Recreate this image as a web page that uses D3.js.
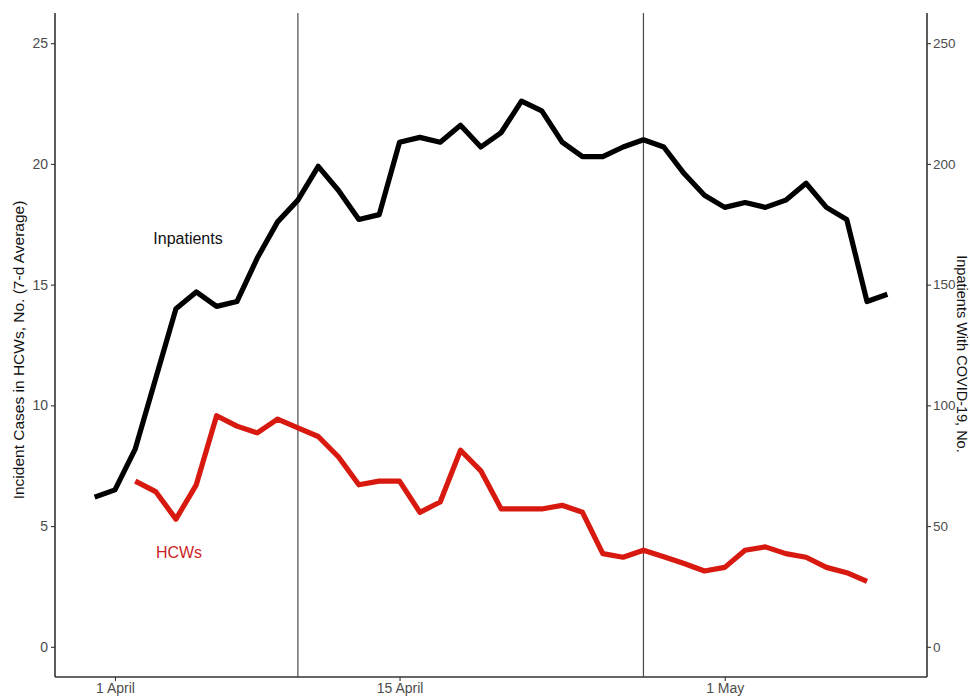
<!DOCTYPE html>
<html>
<head>
<meta charset="utf-8">
<script src="https://cdn.jsdelivr.net/npm/d3@7"></script>
<style>
  html, body { margin: 0; padding: 0; background: #fff; }
  svg { display: block; font-family: "Liberation Sans", Arial, Helvetica, sans-serif; }
</style>
</head>
<body>
<svg id="chart" width="970" height="696"></svg>
<script>
// Inpatients with COVID-19 (daily census), 31 March – 9 May
const inpatientStart = "2020-03-31";
const inpatients = [62, 65, 82, 111, 140, 147, 141, 143, 161, 176,
  185, 199, 189, 177, 179, 209, 211, 209, 216, 207,
  213, 226, 222, 209, 203, 203, 207, 210, 207, 196,
  187, 182, 184, 182, 185, 192, 182, 177, 143, 146];

// Incident cases in HCWs (7-day average), 2 April – 8 May
const hcwStart = "2020-04-02";
const hcwCases = [6.86, 6.43, 5.29, 6.71, 9.57, 9.14, 8.86, 9.43, 9.07, 8.71,
  7.86, 6.71, 6.86, 6.86, 5.57, 6.00, 8.14, 7.29, 5.71, 5.71,
  5.71, 5.86, 5.57, 3.86, 3.71, 4.00, 3.73, 3.45, 3.14, 3.29,
  4.00, 4.14, 3.86, 3.71, 3.29, 3.07, 2.71];

// Policy change dates marked with vertical rules
const markerDates = ["2020-04-10", "2020-04-27"];

// Axis ticks
const xTickDates = ["2020-04-01", "2020-04-15", "2020-05-01"];
const xTickLabels = ["1 April", "15 April", "1 May"];
const leftTicks = [0, 5, 10, 15, 20, 25];
const rightTicks = [0, 50, 100, 150, 200, 250];

const parse = d3.utcParse("%Y-%m-%d");
const seriesFrom = (start, values) =>
  values.map((v, i) => ({ date: d3.utcDay.offset(parse(start), i), value: v }));

const inpatientData = seriesFrom(inpatientStart, inpatients);
const hcwData = seriesFrom(hcwStart, hcwCases);

const svg = d3.select("#chart");
const panel = { left: 55, right: 927, top: 13, bottom: 677 };

// x: 5% padding around the full date span
const first = parse(inpatientStart);
const last = inpatientData[inpatientData.length - 1].date;
const span = last - first;
const x = d3.scaleUtc()
  .domain([new Date(+first - span * 0.05), new Date(+last + span * 0.05)])
  .range([panel.left, panel.right]);

// left axis: HCW cases; right axis: inpatients (10x)
const yL = d3.scaleLinear().domain([-1.25, 26.25]).range([panel.bottom, panel.top]);
const yR = d3.scaleLinear().domain([-12.5, 262.5]).range([panel.bottom, panel.top]);

const tickColor = "#4d4d4d";
const axisColor = "#333333";

// vertical rules
svg.append("g").selectAll("line")
  .data(markerDates.map(parse))
  .join("line")
  .attr("x1", d => x(d)).attr("x2", d => x(d))
  .attr("y1", panel.top).attr("y2", panel.bottom)
  .attr("stroke", "#4a4a4a").attr("stroke-width", 1.2);

// axes
function styleAxis(size) {
  return g => {
    g.select(".domain").remove();
    g.selectAll(".tick line").attr("stroke", axisColor).attr("stroke-width", 1.1);
    g.selectAll(".tick text").attr("fill", tickColor).style("font-size", size);
  };
}

svg.append("g")
  .attr("transform", `translate(${panel.left},0)`)
  .call(d3.axisLeft(yL).tickValues(leftTicks).tickSize(4).tickPadding(3))
  .call(styleAxis("14px"));

svg.append("g")
  .attr("transform", `translate(${panel.right},0)`)
  .call(d3.axisRight(yR).tickValues(rightTicks).tickSize(4).tickPadding(2))
  .call(styleAxis("13.5px"));

svg.append("g")
  .attr("transform", `translate(0,${panel.bottom})`)
  .call(d3.axisBottom(x).tickValues(xTickDates.map(parse))
    .tickFormat((d, i) => xTickLabels[i]).tickSize(4).tickPadding(2))
  .call(styleAxis("14px"));

// axis lines (left, right, bottom)
const frame = svg.append("g").attr("stroke", axisColor).attr("stroke-width", 1.6);
frame.append("line").attr("x1", panel.left).attr("x2", panel.left)
  .attr("y1", panel.top).attr("y2", panel.bottom);
frame.append("line").attr("x1", panel.right).attr("x2", panel.right)
  .attr("y1", panel.top).attr("y2", panel.bottom);
frame.append("line").attr("x1", panel.left).attr("x2", panel.right)
  .attr("y1", panel.bottom).attr("y2", panel.bottom);

// series lines
const inpatientLine = d3.line().x(d => x(d.date)).y(d => yR(d.value));
const hcwLine = d3.line().x(d => x(d.date)).y(d => yL(d.value));

svg.append("path").datum(inpatientData)
  .attr("d", inpatientLine)
  .attr("fill", "none").attr("stroke", "#000").attr("stroke-width", 5.2)
  .attr("stroke-linejoin", "round");

svg.append("path").datum(hcwData)
  .attr("d", hcwLine)
  .attr("fill", "none").attr("stroke", "#d7190f").attr("stroke-width", 5.2)
  .attr("stroke-linejoin", "round");

// series labels
svg.append("text").attr("x", 188).attr("y", 244)
  .attr("text-anchor", "middle").style("font-size", "16px").attr("fill", "#111")
  .text("Inpatients");
svg.append("text").attr("x", 179).attr("y", 558)
  .attr("text-anchor", "middle").style("font-size", "16px").attr("fill", "#cc1f1f")
  .text("HCWs");

// axis titles
svg.append("text")
  .attr("transform", "translate(24,350) rotate(-90)")
  .attr("text-anchor", "middle").style("font-size", "15.5px").attr("fill", "#111")
  .text("Incident Cases in HCWs, No. (7-d Average)");

svg.append("text")
  .attr("transform", "translate(957,354) rotate(90)")
  .attr("text-anchor", "middle").style("font-size", "14.5px").attr("fill", "#111")
  .text("Inpatients With COVID-19, No.");
</script>
</body>
</html>
